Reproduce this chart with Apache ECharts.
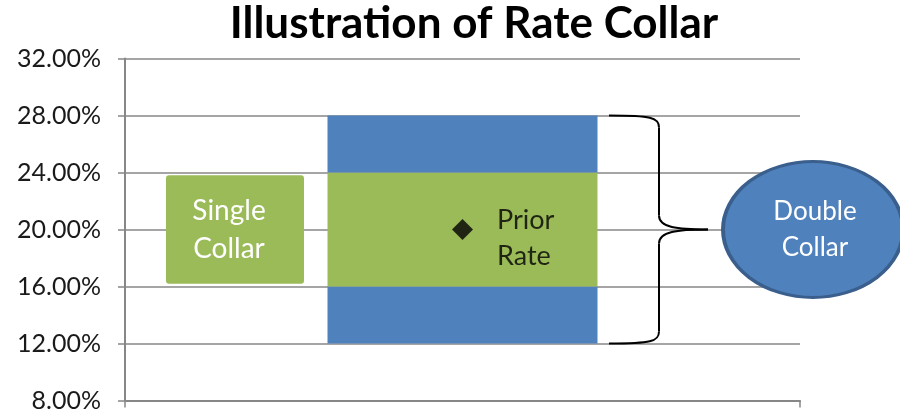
<!DOCTYPE html>
<html>
<head>
<meta charset="utf-8">
<script src="https://cdn.jsdelivr.net/npm/echarts@6/dist/echarts.min.js"></script>
<style>
  html, body { margin: 0; padding: 0; background: #fff; }
  #chart { width: 900px; height: 413px; }
</style>
</head>
<body>
<div id="chart"></div>
<script>
// collar bounds, in percent
const categories = ['Collar'];
const doubleFloor = [12];
const singleFloor = [16];
const singleCap = [24];
const doubleCap = [28];
const priorRate = [20];
// y range covered by the "Single Collar" label box
const singleBoxRange = [16.2, 23.8];
const yMin = 8, yMax = 32, yStep = 4;

const BLUE = '#4F81BD';
const GREEN = '#9BBB59';
const GRAY = '#878787';
const FONT = 'Lato, "Open Sans", sans-serif';

const chart = echarts.init(document.getElementById('chart'));

chart.setOption({
  backgroundColor: '#fff',
  animation: false,
  title: {
    text: 'Illustration of Rate Collar',
    left: 469,
    textAlign: 'center',
    top: -3,
    textStyle: { fontFamily: FONT, fontSize: 44, fontWeight: 'bold', color: '#000' }
  },
  grid: { left: 125, right: 100, top: 58.5, bottom: 9.5, containLabel: false },
  xAxis: {
    type: 'category',
    data: categories,
    boundaryGap: true,
    axisLine: { lineStyle: { color: GRAY, width: 2 } },
    axisTick: { show: true, length: 7, lineStyle: { color: GRAY, width: 1.5 } },
    axisLabel: { show: false },
    splitLine: { show: false }
  },
  yAxis: {
    type: 'value',
    min: yMin,
    max: yMax,
    interval: yStep,
    axisLine: { show: true, lineStyle: { color: GRAY, width: 2 } },
    axisTick: { show: true, length: 7, lineStyle: { color: GRAY, width: 1.5 } },
    axisLabel: {
      margin: 24,
      fontFamily: FONT,
      fontSize: 25,
      color: '#1a1a1a',
      formatter: v => v.toFixed(2) + '%'
    },
    splitLine: { show: true, lineStyle: { color: GRAY, width: 1.5 } }
  },
  series: [
    {
      type: 'bar', stack: 'collar', barWidth: '40%', silent: true,
      itemStyle: { color: 'transparent' },
      data: doubleFloor
    },
    {
      type: 'bar', stack: 'collar', silent: true,
      itemStyle: { color: BLUE },
      data: singleFloor.map((v, i) => v - doubleFloor[i])
    },
    {
      type: 'bar', stack: 'collar', silent: true,
      itemStyle: { color: GREEN },
      data: singleCap.map((v, i) => v - singleFloor[i])
    },
    {
      type: 'bar', stack: 'collar', silent: true,
      itemStyle: { color: BLUE },
      data: doubleCap.map((v, i) => v - singleCap[i])
    },
    {
      type: 'scatter', silent: true,
      symbol: 'diamond',
      symbolSize: 21,
      itemStyle: { color: '#000' },
      data: priorRate,
      label: {
        show: true,
        position: 'right',
        distance: 24,
        offset: [0, 9],
        align: 'left',
        fontFamily: FONT,
        fontSize: 27,
        lineHeight: 36,
        color: '#000',
        formatter: 'Prior\nRate'
      }
    }
  ]
});

// annotations placed from the y scale
const py = v => chart.convertToPixel({ yAxisIndex: 0 }, v);
const braceTop = py(doubleCap[0]);
const braceBot = py(doubleFloor[0]);
const braceMid = py(priorRate[0]);
const bx0 = 609, bx1 = 659, bx2 = 708;
const braceStyle = { stroke: '#000', lineWidth: 2, fill: null };

const boxTop = py(singleBoxRange[1]);
const boxBot = py(singleBoxRange[0]);
const ellCx = 813, ellRx = 90, ellRy = 68;

chart.setOption({
  graphic: [
    {
      type: 'rect', silent: true, z: 10,
      shape: { x: 166, y: boxTop, width: 138, height: boxBot - boxTop, r: 3 },
      style: { fill: GREEN }
    },
    {
      type: 'text', silent: true, z: 11,
      x: 229, y: (boxTop + boxBot) / 2,
      style: {
        text: 'Single\nCollar', fill: '#fff', font: '28px ' + FONT,
        lineHeight: 38, align: 'center', verticalAlign: 'middle'
      }
    },
    // curly brace
    {
      type: 'bezierCurve', silent: true, z: 10,
      shape: { x1: bx0, y1: braceTop, cpx1: bx0 + 42, cpy1: braceTop, cpx2: bx1, cpy2: braceTop + 2, x2: bx1, y2: braceTop + 12 },
      style: braceStyle
    },
    {
      type: 'line', silent: true, z: 10,
      shape: { x1: bx1, y1: braceTop + 12, x2: bx1, y2: braceMid - 14 },
      style: braceStyle
    },
    {
      type: 'bezierCurve', silent: true, z: 10,
      shape: { x1: bx1, y1: braceMid - 14, cpx1: bx1, cpy1: braceMid - 2, cpx2: bx1 + 18, cpy2: braceMid, x2: bx2, y2: braceMid },
      style: braceStyle
    },
    {
      type: 'bezierCurve', silent: true, z: 10,
      shape: { x1: bx2, y1: braceMid, cpx1: bx1 + 18, cpy1: braceMid, cpx2: bx1, cpy2: braceMid + 2, x2: bx1, y2: braceMid + 14 },
      style: braceStyle
    },
    {
      type: 'line', silent: true, z: 10,
      shape: { x1: bx1, y1: braceMid + 14, x2: bx1, y2: braceBot - 12 },
      style: braceStyle
    },
    {
      type: 'bezierCurve', silent: true, z: 10,
      shape: { x1: bx1, y1: braceBot - 12, cpx1: bx1, cpy1: braceBot - 2, cpx2: bx0 + 42, cpy2: braceBot, x2: bx0, y2: braceBot },
      style: braceStyle
    },
    // ellipse
    {
      type: 'circle', silent: true, z: 10,
      shape: { cx: ellCx, cy: braceMid, r: ellRy },
      scaleX: ellRx / ellRy, originX: ellCx, originY: braceMid,
      style: { fill: BLUE, stroke: '#3A5F8C', lineWidth: 3, strokeNoScale: true }
    },
    {
      type: 'text', silent: true, z: 11,
      x: 815, y: braceMid,
      style: {
        text: 'Double\nCollar', fill: '#fff', font: '26px ' + FONT,
        lineHeight: 36, align: 'center', verticalAlign: 'middle'
      }
    }
  ]
});
</script>
</body>
</html>
